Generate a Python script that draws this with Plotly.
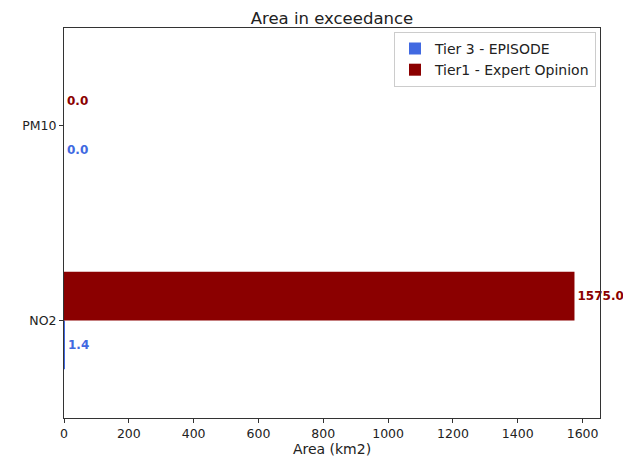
import plotly.graph_objects as go

# pollutants on the y axis (bottom to top)
pollutants = ["NO2", "PM10"]
tier3_episode = [1.4, 0.0]
tier1_expert = [1575.0, 0.0]

BLUE = "#4169E1"
RED = "#8B0000"

fig = go.Figure()

fig.add_trace(go.Bar(
    y=pollutants, x=tier3_episode, orientation="h",
    name="Tier 3 - EPISODE", marker=dict(color=BLUE, line=dict(width=0)),
    width=0.25, offset=-0.25,
    texttemplate="<b>%{x:.1f}</b>", textposition="outside",
    textfont=dict(color=BLUE, size=12), cliponaxis=False,
))
fig.add_trace(go.Bar(
    y=pollutants, x=tier1_expert, orientation="h",
    name="Tier1 - Expert Opinion", marker=dict(color=RED, line=dict(width=0)),
    width=0.25, offset=0.0,
    texttemplate="<b>%{x:.1f}</b>", textposition="outside",
    textfont=dict(color=RED, size=12), cliponaxis=False,
))

# page body has ~8px margin, so the figure is a bit smaller than the window
fig.update_layout(
    width=623, height=454,
    barmode="overlay",
    paper_bgcolor="white", plot_bgcolor="white",
    font=dict(family="DejaVu Sans", size=12.5, color="#222"),
    margin=dict(l=56, r=31, t=20, b=44, autoexpand=False),
    title=dict(text="Area in exceedance", x=0.52, xanchor="center",
               y=0.978, yanchor="middle", font=dict(size=16.5, color="#222")),
    legend=dict(x=0.9925, y=0.99, xanchor="right", yanchor="top",
                bordercolor="#cccccc", borderwidth=1, bgcolor="white",
                font=dict(size=14), traceorder="normal", tracegroupgap=0,
                itemsizing="constant"),
    showlegend=True,
)

fig.update_xaxes(
    range=[0, 1653.75], tickvals=list(range(0, 1601, 200)),
    showline=True, linecolor="#333", linewidth=1, mirror=True,
    ticks="outside", ticklen=4, tickcolor="#333",
    showgrid=False, zeroline=False, automargin=False,
    title=dict(text="Area (km2)", font=dict(size=14), standoff=2),
)
fig.update_yaxes(
    type="category", range=[-0.5, 1.5],
    showline=True, linecolor="#333", linewidth=1, mirror=True,
    ticks="outside", ticklen=4, tickcolor="#333",
    showgrid=False, zeroline=False, automargin=False,
)

fig.write_html("out.html")
